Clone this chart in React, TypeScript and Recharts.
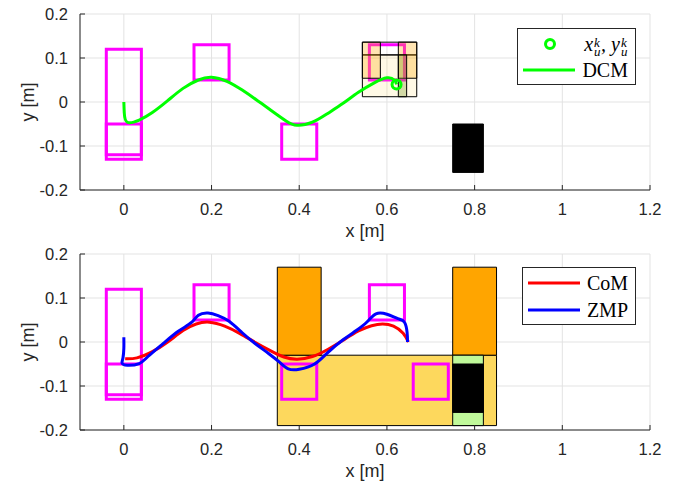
import React from "react";
import {
  CartesianGrid,
  ComposedChart,
  Line,
  ReferenceArea,
  Scatter,
  XAxis,
  YAxis,
} from "recharts";

const xTicks = [0, 0.2, 0.4, 0.6, 0.8, 1, 1.2];
const yTicks = [-0.2, -0.1, 0, 0.1, 0.2];

// footprints: [x1, x2, y1, y2]
const stepsTop = [
  [-0.04, 0.04, -0.12, 0.12],
  [-0.04, 0.04, -0.13, -0.05],
  [0.16, 0.24, 0.05, 0.13],
  [0.36, 0.44, -0.13, -0.05],
  [0.56, 0.64, 0.05, 0.13],
];
const stepsBottom = [...stepsTop, [0.66, 0.74, -0.13, -0.05]];

// regions in the upper plot
const paleTop = [[0.544, 0.668, 0.012, 0.107]];
const openTop = [[0.544, 0.668, 0.107, 0.136]];
const orangeTop = [
  [0.544, 0.585, 0.054, 0.136],
  [0.626, 0.668, 0.054, 0.136],
];
const greenTop = [[0.626, 0.645, 0.012, 0.107]];
const blackTop = [[0.75, 0.82, -0.16, -0.05]];

// regions in the lower plot
const yellowBottom = [[0.35, 0.85, -0.19, -0.03]];
const orangeBottom = [
  [0.35, 0.45, -0.03, 0.17],
  [0.75, 0.85, -0.03, 0.17],
];
const greenBottom = [[0.75, 0.82, -0.19, -0.03]];
const blackBottom = [[0.75, 0.82, -0.16, -0.05]];

const dcm = [
  { x: 0, y: 0 },
  { x: 0.001, y: -0.025 },
  { x: 0.008, y: -0.046 },
  { x: 0.035, y: -0.041 },
  { x: 0.065, y: -0.024 },
  { x: 0.1, y: 0.003 },
  { x: 0.135, y: 0.031 },
  { x: 0.17, y: 0.05 },
  { x: 0.2, y: 0.056 },
  { x: 0.235, y: 0.047 },
  { x: 0.27, y: 0.027 },
  { x: 0.305, y: 0.003 },
  { x: 0.34, y: -0.022 },
  { x: 0.37, y: -0.043 },
  { x: 0.395, y: -0.053 },
  { x: 0.43, y: -0.046 },
  { x: 0.465, y: -0.026 },
  { x: 0.5, y: -0.003 },
  { x: 0.535, y: 0.022 },
  { x: 0.57, y: 0.043 },
  { x: 0.6, y: 0.055 },
  { x: 0.617, y: 0.05 },
  { x: 0.622, y: 0.04 },
];
const ukPoint = [{ x: 0.622, y: 0.04 }];

const com = [
  { x: 0.003, y: -0.038 },
  { x: 0.03, y: -0.036 },
  { x: 0.065, y: -0.022 },
  { x: 0.1, y: 0.0 },
  { x: 0.135, y: 0.026 },
  { x: 0.165, y: 0.041 },
  { x: 0.195, y: 0.045 },
  { x: 0.23, y: 0.036 },
  { x: 0.265, y: 0.019 },
  { x: 0.3, y: -0.001 },
  { x: 0.335, y: -0.02 },
  { x: 0.365, y: -0.034 },
  { x: 0.395, y: -0.039 },
  { x: 0.43, y: -0.033 },
  { x: 0.465, y: -0.017 },
  { x: 0.5, y: 0.004 },
  { x: 0.535, y: 0.025 },
  { x: 0.565, y: 0.037 },
  { x: 0.59, y: 0.041 },
  { x: 0.615, y: 0.036 },
  { x: 0.637, y: 0.02 },
  { x: 0.649, y: 0.0 },
];

const zmp = [
  { x: 0.0, y: 0.011 },
  { x: 0.0, y: -0.014 },
  { x: -0.002, y: -0.036 },
  { x: -0.004, y: -0.048 },
  { x: 0.008, y: -0.053 },
  { x: 0.035, y: -0.049 },
  { x: 0.055, y: -0.033 },
  { x: 0.09, y: -0.003 },
  { x: 0.125, y: 0.025 },
  { x: 0.155, y: 0.045 },
  { x: 0.17, y: 0.061 },
  { x: 0.192, y: 0.066 },
  { x: 0.215, y: 0.06 },
  { x: 0.24, y: 0.047 },
  { x: 0.27, y: 0.021 },
  { x: 0.3, y: -0.004 },
  { x: 0.33, y: -0.026 },
  { x: 0.355, y: -0.046 },
  { x: 0.375, y: -0.061 },
  { x: 0.4, y: -0.062 },
  { x: 0.435, y: -0.05 },
  { x: 0.465, y: -0.024 },
  { x: 0.5, y: 0.005 },
  { x: 0.53, y: 0.026 },
  { x: 0.555, y: 0.046 },
  { x: 0.575, y: 0.064 },
  { x: 0.6, y: 0.063 },
  { x: 0.625, y: 0.053 },
  { x: 0.64, y: 0.045 },
  { x: 0.646, y: 0.022 },
  { x: 0.647, y: 0.0 },
];

const INK = "#262626";
const GRID = "#e3e3e3";
const sans = '"Liberation Sans", Arial, Helvetica, sans-serif';
const serif = '"Liberation Serif", "Times New Roman", serif';

const tickStyle = { fill: INK, fontSize: 16.5, fontFamily: sans };

type Box = number[];

function areas(list: Box[], key: string, props: any) {
  return list.map((b, i) => (
    <ReferenceArea
      key={key + i}
      x1={b[0]}
      x2={b[1]}
      y1={b[2]}
      y2={b[3]}
      ifOverflow="visible"
      {...props}
    />
  ));
}

const stepStyle = { fill: "none", stroke: "#ff00ff", strokeWidth: 3 };
const edge = { stroke: "#000", strokeWidth: 1 };

function Axes({ axisHeight, labelOffset }: { axisHeight: number; labelOffset: number }) {
  return (
    <>
      <CartesianGrid stroke={GRID} />
      <XAxis
        type="number"
        dataKey="x"
        domain={[-0.1, 1.2]}
        ticks={xTicks}
        interval={0}
        allowDataOverflow
        height={axisHeight}
        tick={tickStyle}
        tickSize={-5}
        tickMargin={18}
        axisLine={{ stroke: INK }}
        tickLine={{ stroke: INK }}
        label={{
          value: "x [m]",
          position: "insideBottom",
          offset: labelOffset,
          fill: INK,
          fontSize: 18,
          fontFamily: sans,
        }}
      />
      <YAxis
        type="number"
        dataKey="y"
        domain={[-0.2, 0.2]}
        ticks={yTicks}
        interval={0}
        allowDataOverflow
        width={80}
        tick={tickStyle}
        tickSize={-5}
        tickMargin={17}
        axisLine={{ stroke: INK }}
        tickLine={{ stroke: INK }}
        label={{
          value: "y [m]",
          angle: -90,
          position: "insideLeft",
          offset: 28,
          fill: INK,
          fontSize: 18,
          fontFamily: sans,
          style: { textAnchor: "middle" },
        }}
      />
    </>
  );
}

const Scripts = ({ sup, sub }: { sup: string; sub: string }) => (
  <span
    style={{
      position: "relative",
      display: "inline-block",
      width: 8,
      height: 20,
      fontSize: 13,
      lineHeight: "9px",
    }}
  >
    <span style={{ position: "absolute", left: 1, top: 7 }}>{sup}</span>
    <span style={{ position: "absolute", left: 1, top: 16 }}>{sub}</span>
  </span>
);

type Row = { kind: "circle" | "line"; color: string; label: React.ReactNode; y: number };

function LegendBox({
  left,
  top,
  width,
  height,
  rows,
}: {
  left: number;
  top: number;
  width: number;
  height: number;
  rows: Row[];
}) {
  return (
    <div
      style={{
        position: "absolute",
        left,
        top,
        width,
        height,
        boxSizing: "border-box",
        border: "1px solid #262626",
        background: "#fff",
      }}
    >
      {rows.map((r, i) => (
        <React.Fragment key={i}>
          <svg
            width={60}
            height={16}
            style={{ position: "absolute", left: 4, top: r.y - 8 }}
          >
            {r.kind === "circle" ? (
              <circle cx={28} cy={8} r={4.5} fill="none" stroke={r.color} strokeWidth={3} />
            ) : (
              <line x1={1} x2={53} y1={8} y2={8} stroke={r.color} strokeWidth={3} />
            )}
          </svg>
          <div
            style={{
              position: "absolute",
              right: 7,
              top: r.y - 13,
              height: 26,
              lineHeight: "26px",
              fontFamily: serif,
              fontSize: 20,
              color: "#000",
              whiteSpace: "nowrap",
            }}
          >
            {r.label}
          </div>
        </React.Fragment>
      ))}
    </div>
  );
}

const ukLabel = (
  <span style={{ fontStyle: "italic" }}>
    x<Scripts sup="k" sub="u" />, y<Scripts sup="k" sub="u" />
  </span>
);

export default function App() {
  return (
    <div
      style={{
        position: "fixed",
        left: 0,
        top: 0,
        width: 678,
        height: 487,
        background: "#fff",
        overflow: "hidden",
      }}
    >
      <div style={{ position: "absolute", left: 0, top: 0 }}>
        <ComposedChart
          width={678}
          height={245}
          margin={{ top: 14, right: 28, bottom: 0, left: 0 }}
        >
          {Axes({ axisHeight: 55, labelOffset: 8 })}
          {areas(stepsTop, "st", stepStyle)}
          {areas(blackTop, "bk", { fill: "#000", fillOpacity: 1, ...edge })}
          {areas(paleTop, "pl", { fill: "#ffd95a", fillOpacity: 0.15, ...edge })}
          {areas(openTop, "op", { fill: "none", ...edge })}
          {areas(orangeTop, "or", { fill: "#ffa500", fillOpacity: 0.3, ...edge })}
          {areas(greenTop, "gr", { fill: "#7a9a2a", fillOpacity: 0.35, ...edge })}
          <Line
            data={dcm}
            dataKey="y"
            name="DCM"
            type="natural"
            stroke="#00ff00"
            strokeWidth={3}
            dot={false}
            isAnimationActive={false}
          />
          <Scatter
            data={ukPoint}
            dataKey="y"
            name="x_u^k, y_u^k"
            isAnimationActive={false}
            shape={(p: any) => (
              <circle cx={p.cx} cy={p.cy} r={4.5} fill="none" stroke="#00ff00" strokeWidth={3} />
            )}
          />
        </ComposedChart>
      </div>
      <div style={{ position: "absolute", left: 0, top: 240 }}>
        <ComposedChart
          width={678}
          height={247}
          margin={{ top: 14, right: 28, bottom: 0, left: 0 }}
        >
          {Axes({ axisHeight: 57, labelOffset: 10 })}
          {areas(yellowBottom, "yl", { fill: "#fdd85d", fillOpacity: 1, ...edge })}
          {areas(orangeBottom, "ob", { fill: "#ffa500", fillOpacity: 1, ...edge })}
          {areas(greenBottom, "gb", { fill: "#c0f99a", fillOpacity: 1, ...edge })}
          {areas(blackBottom, "kb", { fill: "#000", fillOpacity: 1, ...edge })}
          {areas(stepsBottom, "sb", stepStyle)}
          <Line
            data={com}
            dataKey="y"
            name="CoM"
            type="natural"
            stroke="#ff0000"
            strokeWidth={3}
            dot={false}
            isAnimationActive={false}
          />
          <Line
            data={zmp}
            dataKey="y"
            name="ZMP"
            type="natural"
            stroke="#0000ff"
            strokeWidth={3}
            dot={false}
            isAnimationActive={false}
          />
        </ComposedChart>
      </div>
      <LegendBox
        left={517}
        top={28}
        width={119}
        height={57}
        rows={[
          { kind: "circle", color: "#00ff00", label: ukLabel, y: 15 },
          { kind: "line", color: "#00ff00", label: "DCM", y: 41 },
        ]}
      />
      <LegendBox
        left={522}
        top={267}
        width={114}
        height={58}
        rows={[
          { kind: "line", color: "#ff0000", label: "CoM", y: 15 },
          { kind: "line", color: "#0000ff", label: "ZMP", y: 42 },
        ]}
      />
    </div>
  );
}
